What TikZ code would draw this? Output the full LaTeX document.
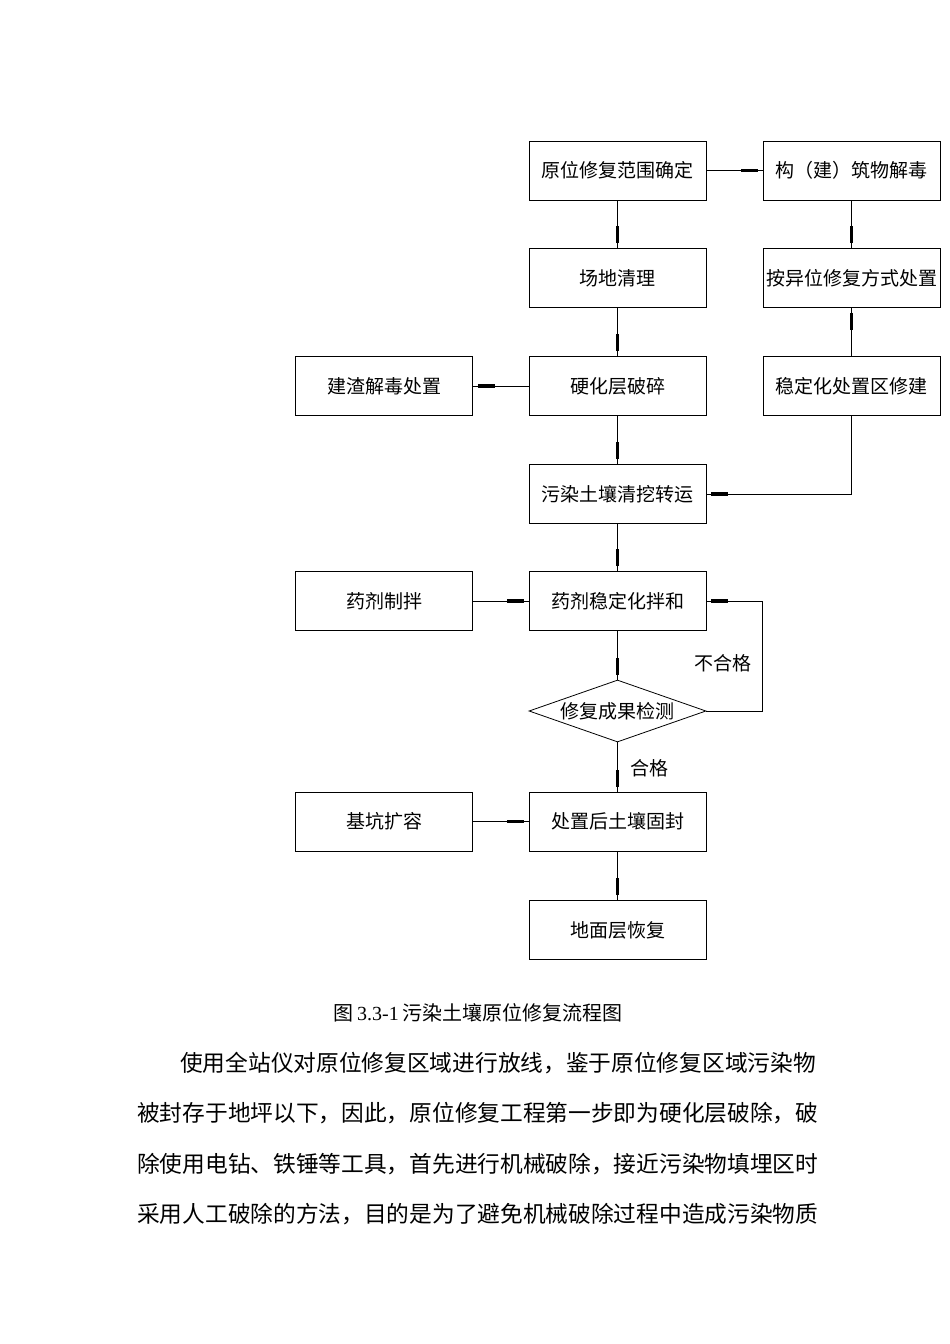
\documentclass[tikz,border=0pt]{standalone}
\usepackage{fontspec}
\setmainfont{Liberation Serif}
\newfontfamily\cjk{Noto Sans CJK SC}
\usetikzlibrary{calc,shapes.geometric}
\tikzset{
 bx/.style={draw, line width=0.8pt, minimum width=177pt, minimum height=59pt, inner sep=0pt, font=\cjk\fontsize{19}{19}\selectfont},
 dm/.style={draw, line width=0.8pt, diamond, aspect=2.85, minimum width=177pt, minimum height=62pt, inner sep=0pt, font=\cjk\fontsize{19}{19}\selectfont},
 ln/.style={line width=0.8pt},
 lbl/.style={font=\cjk\fontsize{19}{19}\selectfont},
 body/.style={anchor=west, inner sep=0pt, font=\cjk\fontsize{22.7}{22.7}\selectfont}
}
\newcommand\mybar[2]{\draw[line width=3.8pt] ($(#2)!5pt!(#1)$) -- ($(#2)!22pt!(#1)$);}
\begin{document}
\begin{tikzpicture}[x=1pt,y=-1pt]
\useasboundingbox (0,0) rectangle (950,1344);
\node[bx] (a) at (617.5,170.5) {原位修复范围确定};
\node[bx] (r1) at (851.5,170.5) {构（建）筑物解毒};
\node[bx] (b) at (617.5,278) {场地清理};
\node[bx] (r2) at (851.5,278) {按异位修复方式处置};
\node[bx] (c) at (617.5,386) {硬化层破碎};
\node[bx] (l1) at (384,386) {建渣解毒处置};
\node[bx] (r3) at (851.5,386) {稳定化处置区修建};
\node[bx] (d) at (617.5,494) {污染土壤清挖转运};
\node[bx] (e) at (617.5,601) {药剂稳定化拌和};
\node[bx] (l2) at (384,601) {药剂制拌};
\node[dm] (f) at (617.5,711) {修复成果检测};
\node[bx] (g) at (617.5,821.5) {处置后土壤固封};
\node[bx] (l3) at (384,821.5) {基坑扩容};
\node[bx] (h) at (617.5,930) {地面层恢复};
\coordinate (k1) at (851.5,494);
\coordinate (k2) at (762,711);
\coordinate (k3) at (762,601);
% connectors
\draw[ln] (a.east) -- (r1.west); \mybar{a.east}{r1.west}
\draw[ln] (a.south) -- (b.north); \mybar{a.south}{b.north}
\draw[ln] (r1.south) -- (r2.north); \mybar{r1.south}{r2.north}
\draw[ln] (r3.north) -- (r2.south); \mybar{r3.north}{r2.south}
\draw[ln] (b.south) -- (c.north); \mybar{b.south}{c.north}
\draw[ln] (c.west) -- (l1.east); \mybar{c.west}{l1.east}
\draw[ln] (c.south) -- (d.north); \mybar{c.south}{d.north}
\draw[ln] (r3.south) -- (k1) -- (d.east); \mybar{k1}{d.east}
\draw[ln] (d.south) -- (e.north); \mybar{d.south}{e.north}
\draw[ln] (l2.east) -- (e.west); \mybar{l2.east}{e.west}
\draw[ln] (e.south) -- (f.north); \mybar{e.south}{f.north}
\draw[ln] (f.east) -- (k2) -- (k3) -- (e.east); \mybar{k3}{e.east}
\node[lbl] (t1) at (723,663) {不合格};
\draw[ln] (f.south) -- (g.north); \mybar{f.south}{g.north}
\node[lbl] (t2) at (649,768) {合格};
\draw[ln] (l3.east) -- (g.west); \mybar{l3.east}{g.west}
\draw[ln] (g.south) -- (h.north); \mybar{g.south}{h.north}
% caption and body
\node[font=\fontsize{20}{20}\selectfont] (cap) at (478,1013) {{\cjk 图}\,3.3-1\,{\cjk 污染土壤原位修复流程图}};
\node[body] (p1) at (180,1063) {使用全站仪对原位修复区域进行放线，鉴于原位修复区域污染物};
\node[body] (p2) at (137,1113) {被封存于地坪以下，因此，原位修复工程第一步即为硬化层破除，破};
\node[body] (p3) at (137,1164) {除使用电钻、铁锤等工具，首先进行机械破除，接近污染物填埋区时};
\node[body] (p4) at (137,1214) {采用人工破除的方法，目的是为了避免机械破除过程中造成污染物质};
\end{tikzpicture}
\end{document}
